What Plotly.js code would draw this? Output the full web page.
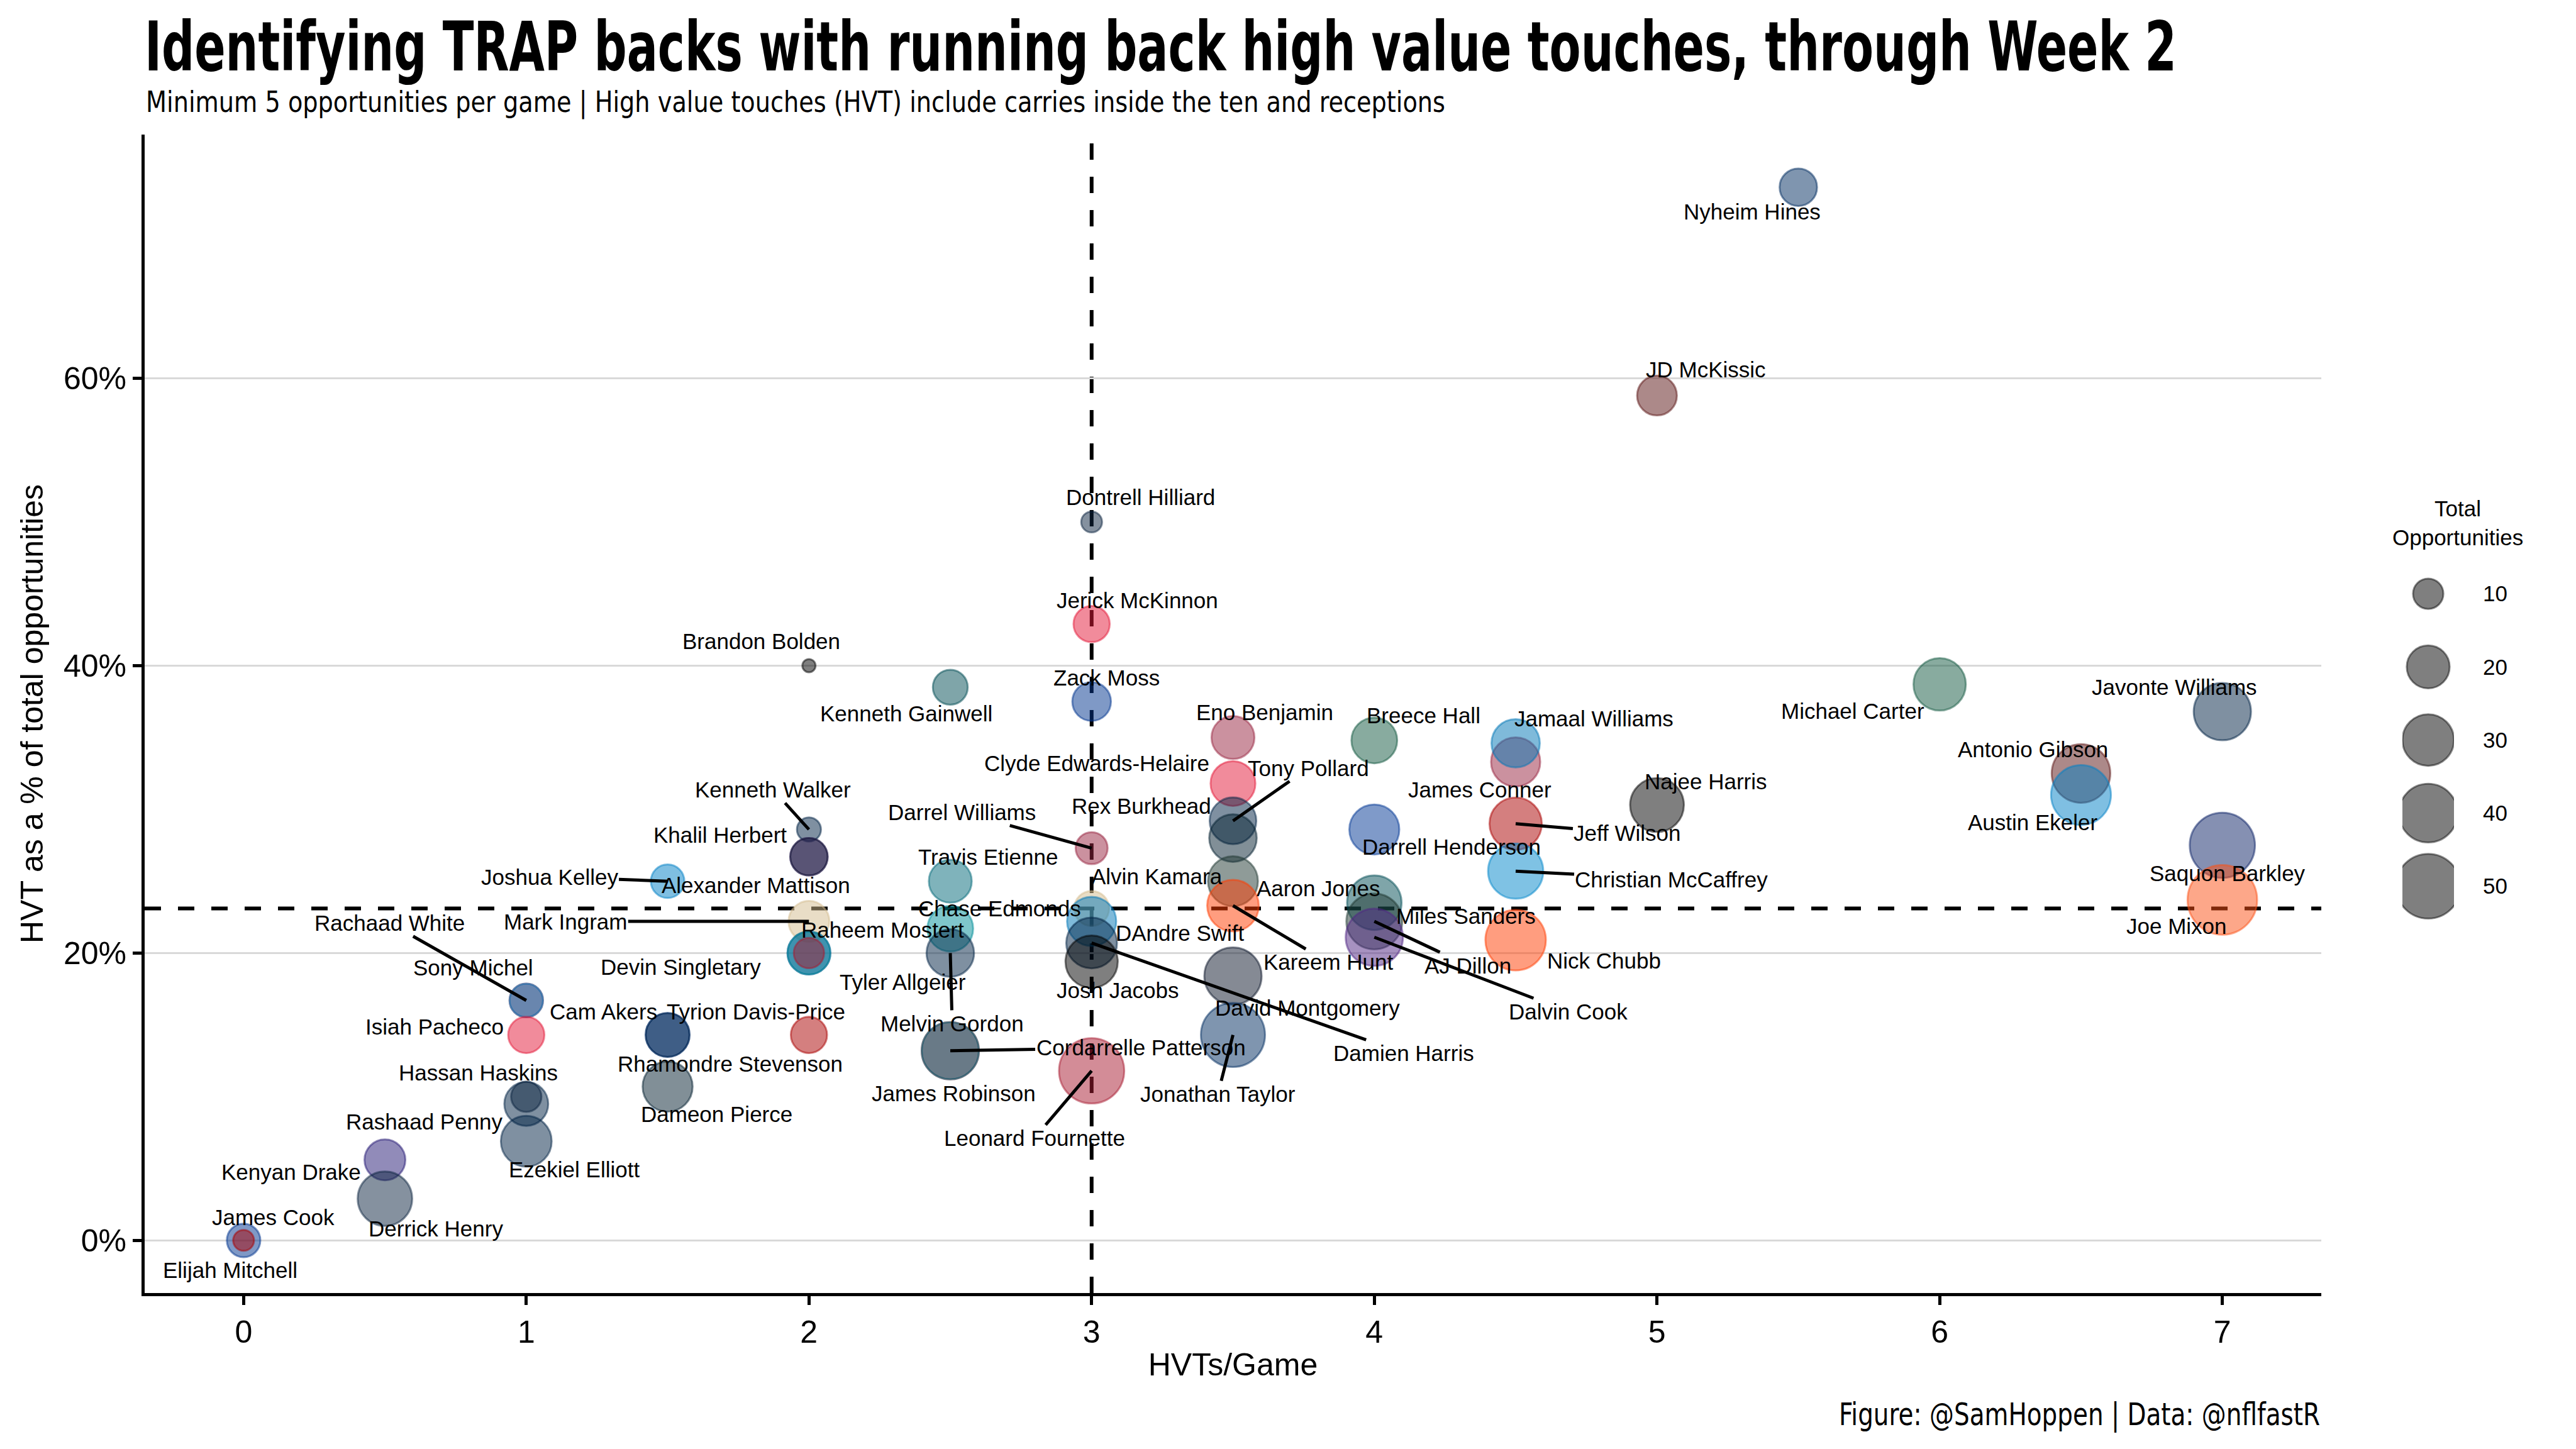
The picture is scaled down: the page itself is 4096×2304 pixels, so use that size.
<!DOCTYPE html>
<html><head><meta charset="utf-8">
<script src="https://cdn.plot.ly/plotly-3.0.1.min.js"></script>
<style>html,body{margin:0;padding:0;background:#fff}#chart{width:4096px;height:2304px}</style>
</head><body><div id="chart"></div>
<script>
// ---------------- DATA ----------------
const players = ["Nyheim Hines","JD McKissic","Dontrell Hilliard","Jerick McKinnon","Brandon Bolden","Kenneth Gainwell","Zack Moss","Michael Carter","Javonte Williams","Eno Benjamin","Breece Hall","James Conner","Jamaal Williams","Antonio Gibson","Austin Ekeler","Clyde Edwards-Helaire","Najee Harris","Tony Pollard","Rex Burkhead","Jeff Wilson","Kenneth Walker","Darrell Henderson","Darrel Williams","Alexander Mattison","Khalil Herbert","Christian McCaffrey","Travis Etienne","Joshua Kelley","Aaron Jones","Saquon Barkley","Joe Mixon","Kareem Hunt","Alvin Kamara","Miles Sanders","Mark Ingram","Chase Edmonds","DAndre Swift","AJ Dillon","Dalvin Cook","Nick Chubb","Devin Singletary","Raheem Mostert","Tyler Allgeier","Melvin Gordon","Damien Harris","Josh Jacobs","David Montgomery","Rachaad White","Sony Michel","Cam Akers","Rhamondre Stevenson","Tyrion Davis-Price","Isiah Pacheco","Cordarrelle Patterson","James Robinson","Jonathan Taylor","Leonard Fournette","Dameon Pierce","Rashaad Penny","Hassan Haskins","Ezekiel Elliott","Kenyan Drake","Derrick Henry","James Cook","Elijah Mitchell"];
const teams = ["IND","WAS","TEN","KC","LV","PHI","BUF","NYJ","DEN","ARI","NYJ","ARI","DET","WAS","LAC","KC","PIT","DAL","HOU","SF","SEA","LA","ARI","MIN","CHI","CAR","JAX","LAC","GB","NYG","CIN","CLE","NO","PHI","NO","MIA","DET","GB","MIN","CLE","BUF","MIA","ATL","DEN","NE","LV","CHI","TB","LAC","LA","NE","SF","KC","ATL","JAX","IND","TB","HOU","SEA","TEN","DAL","BAL","TEN","BUF","SF"];
const hvtPerGame = [5.5,5,3,3,2,2.5,3,6,7,3.5,4,4.5,4.5,6.5,6.5,3.5,5,3.5,3.5,4.5,2,4,3,2,2,4.5,2.5,1.5,3.5,7,7,3.5,3,4,2,2.5,3,4,4,4.5,2,2,2,2.5,3,3,3.5,1,1,1.5,1.5,2,1,2.5,2.5,3.5,3,1.5,1,1,1,0.5,0.5,0,0];
const hvtPct = [73.3,58.8,50.0,42.9,40.0,38.5,37.5,38.7,36.8,35.0,34.8,33.3,34.6,32.5,31.0,31.8,30.3,29.2,28.0,29.0,28.6,28.6,27.3,26.7,26.7,25.7,25.0,25.0,25.0,27.5,23.7,23.3,23.1,23.5,22.2,21.7,22.2,22.2,21.1,20.9,20.0,20.0,20.0,20.0,20.7,19.4,18.4,16.7,16.7,14.3,14.3,14.3,14.3,13.2,13.2,14.3,11.8,10.7,9.5,10.0,6.9,5.6,2.9,0.0,0.0];
const totalOpps = [15,17,6,14,5,13,16,31,38,20,23,27,26,40,42,22,33,24,25,31,7,28,11,15,15,35,20,12,28,51,59,30,13,34,18,23,27,36,38,43,20,20,10,25,29,31,38,12,12,21,21,14,14,38,38,49,51,28,21,10,29,18,34,12,6];
const xTicks = [0,1,2,3,4,5,6,7];
const yTicks = [0,20,40,60];
const legendSizes = [10,20,30,40,50];
const refHVTperGame = 3;     // vertical reference line
const refHVTpct = 23.1;      // horizontal reference line

// ---------------- STYLE ----------------
const teamColor = {ARI:"#97233F",ATL:"#A71930",BAL:"#241773",BUF:"#00338D",CAR:"#0085CA",CHI:"#0B162A",CIN:"#FB4F14",CLE:"#FF3C00",DAL:"#002244",DEN:"#002244",DET:"#0076B6",GB:"#203731",HOU:"#03202F",IND:"#002C5F",JAX:"#006778",KC:"#E31837",LA:"#003594",LAC:"#0080C6",LV:"#000000",MIA:"#008E97",MIN:"#4F2683",NE:"#002244",NO:"#D3BC8D",NYG:"#0B2265",NYJ:"#125740",PHI:"#004C54",PIT:"#000000",SEA:"#002244",SF:"#AA0000",TB:"#A71930",TEN:"#0C2340",WAS:"#5A1414"};
// label offsets in px: [dx, dy(down), hasSegment]
const labelOffset = {
"Nyheim Hines":[-73,39,false],"JD McKissic":[78,-41,false],"Dontrell Hilliard":[78,-40,false],"Jerick McKinnon":[73,-38,false],
"Brandon Bolden":[-76,-39,false],"Kenneth Gainwell":[-70,42,false],"Zack Moss":[24,-38,false],"Michael Carter":[-138,42,false],
"Javonte Williams":[-76,-39,false],"Eno Benjamin":[50,-40,false],"Breece Hall":[78,-40,false],"Jamaal Williams":[125,-39,false],
"James Conner":[-57,44,false],"Antonio Gibson":[-76,-38,false],"Clyde Edwards-Helaire":[-217,-32,false],"Austin Ekeler":[-76,43,false],
"Najee Harris":[78,-38,false],"Tony Pollard":[120,-84,true],"Jeff Wilson":[178,15,true],"Kenneth Walker":[-57,-63,true],
"Darrell Henderson":[123,28,false],"Rex Burkhead":[-146,-51,false],"Darrel Williams":[-206,-57,true],"Alexander Mattison":[-84,45,false],
"Khalil Herbert":[-141,-35,false],"Christian McCaffrey":[248,13,true],"Travis Etienne":[60,-39,false],"Joshua Kelley":[-188,-7,true],
"Aaron Jones":[136,11,false],"Alvin Kamara":[104,-51,false],"Miles Sanders":[146,21,false],"Kareem Hunt":[151,90,true],
"Mark Ingram":[-387,0,true],"Chase Edmonds":[78,-32,false],"DAndre Swift":[141,18,false],"AJ Dillon":[149,70,true],
"Joe Mixon":[-73,42,false],"Saquon Barkley":[8,44,false],"Devin Singletary":[-204,22,false],"Raheem Mostert":[117,-37,false],
"Tyler Allgeier":[149,46,false],"Dalvin Cook":[308,118,true],"Nick Chubb":[141,33,false],"Melvin Gordon":[3,112,true],
"Damien Harris":[496,175,true],"Josh Jacobs":[42,45,false],"David Montgomery":[118,51,false],"Rachaad White":[-217,-123,true],
"Sony Michel":[-84,-52,false],"Cam Akers":[-102,-37,false],"Tyrion Davis-Price":[-84,-37,false],"Isiah Pacheco":[-146,-13,false],
"Rhamondre Stevenson":[99,46,false],"Cordarrelle Patterson":[303,-5,true],"James Robinson":[5,68,false],"Leonard Fournette":[-91,107,true],
"Jonathan Taylor":[-24,94,true],"Hassan Haskins":[-76,-38,false],"Dameon Pierce":[78,44,false],"Rashaad Penny":[-162,28,false],
"Ezekiel Elliott":[76,45,false],"Kenyan Drake":[-149,19,false],"Derrick Henry":[81,47,false],"James Cook":[47,-37,false],"Elijah Mitchell":[-21,47,false]
};
function rgba(hex, a){const n=parseInt(hex.slice(1),16);return `rgba(${(n>>16)&255},${(n>>8)&255},${n&255},${a})`;}
const minOpps = Math.min(...totalOpps);
function bubbleSize(v){return 21 + 12.2*Math.sqrt(Math.max(v-minOpps,0));}

const baseFont = "Liberation Sans, Arial, Helvetica, sans-serif";
const condFont = "DejaVu Sans Condensed, DejaVu Sans, sans-serif";

const fills = teams.map(t=>rgba(teamColor[t],0.5));
const mainTrace = {
  type:'scatter', mode:'markers', x:hvtPerGame, y:hvtPct, text:players, hoverinfo:'text',
  xaxis:'x', yaxis:'y', cliponaxis:false,
  marker:{size:totalOpps.map(bubbleSize), sizemode:'diameter', color:fills,
          line:{color:fills, width:3}, opacity:1}
};
const legendTrace = {
  type:'scatter', mode:'markers', x:legendSizes.map(()=>0), y:legendSizes.map(String),
  xaxis:'x2', yaxis:'y2', hoverinfo:'skip',
  marker:{size:legendSizes.map(bubbleSize), color:'rgba(0,0,0,0.5)', opacity:1,
          line:{color:'rgba(0,0,0,0.45)', width:3}}
};

const labelFont = {family:baseFont, size:35, color:'#000'};
const annotations = players.map((p,i)=>{
  const o = labelOffset[p];
  if (o[2]) {
    return {x:hvtPerGame[i], y:hvtPct[i], xref:'x', yref:'y', text:p, showarrow:true,
      ax:o[0], ay:o[1], axref:'pixel', ayref:'pixel', arrowhead:0, arrowwidth:5, arrowcolor:'#000',
      standoff:0, startstandoff:0, font:labelFont};
  }
  return {x:hvtPerGame[i], y:hvtPct[i], xref:'x', yref:'y', text:p, showarrow:false,
    xshift:o[0], yshift:-o[1], xanchor:'center', yanchor:'middle', font:labelFont};
});
const subtitleIndex = annotations.length;
annotations.push({xref:'paper', yref:'paper', x:0, y:1.0282, xanchor:'left', yanchor:'middle', showarrow:false,
  text:'Minimum 5 opportunities per game | High value touches (HVT) include carries inside the ten and receptions',
  font:{family:condFont, size:46, color:'#000'}});
const captionIndex = annotations.length;
annotations.push({xref:'paper', yref:'paper', x:0.91901, y:-0.1048, xanchor:'right', yanchor:'middle', showarrow:false,
  text:'Figure: @SamHoppen | Data: @nflfastR', font:{family:condFont, size:50, color:'#000'}});
annotations.push({xref:'paper', yref:'paper', x:0.97663, y:0.665, xanchor:'center', yanchor:'middle', showarrow:false,
  text:'Total<br>Opportunities', font:{family:baseFont, size:35, color:'#000'}});

const yPad = 0.05*(Math.max(...hvtPct)-Math.min(...hvtPct));
const xPad = 0.05*(Math.max(...hvtPerGame)-Math.min(...hvtPerGame));

const layout = {
  width:4096, height:2304, paper_bgcolor:'#fff', plot_bgcolor:'#fff', showlegend:false,
  margin:{l:230, r:100, t:214, b:248, pad:0},
  font:{family:baseFont, color:'#000'},
  title:{text:'Identifying TRAP backs with running back high value touches, through Week 2',
    xref:'paper', x:0, xanchor:'left', yref:'container', y:0.9679, yanchor:'middle',
    font:{family:condFont, size:86, weight:700, color:'#000'}},
  xaxis:{domain:[0,0.91901], range:[Math.min(...hvtPerGame)-xPad, Math.max(...hvtPerGame)+xPad],
    tickvals:xTicks, ticktext:xTicks.map(String), showgrid:false, zeroline:false,
    showline:true, linecolor:'#000', linewidth:5, ticks:'outside', ticklen:14, tickwidth:5, tickcolor:'#000',
    tickfont:{family:baseFont, size:50, color:'#000'},
    title:{text:'HVTs/Game', font:{family:baseFont, size:50, color:'#000'}, standoff:8}},
  yaxis:{domain:[0,1], range:[Math.min(...hvtPct)-yPad, Math.max(...hvtPct)+yPad],
    tickvals:yTicks, ticktext:yTicks.map(v=>v+'%'), showgrid:true, gridcolor:'#d9d9d9', gridwidth:3.5, zeroline:false,
    showline:true, linecolor:'#000', linewidth:5, ticks:'outside', ticklen:14, tickwidth:5, tickcolor:'#000',
    tickfont:{family:baseFont, size:50, color:'#000'},
    title:{text:'HVT as a % of total opportunities', font:{family:baseFont, size:50, color:'#000'}, standoff:18}},
  xaxis2:{domain:[0.95326,0.97504], range:[-1,1], visible:false, anchor:'y2', fixedrange:true},
  yaxis2:{domain:[0.3196,0.6352], anchor:'x2', type:'category', categoryorder:'array', categoryarray:legendSizes.map(String),
    range:[4.5,-0.5], side:'right', showgrid:false, zeroline:false, showline:false,
    ticks:'outside', ticklen:38, tickcolor:'rgba(0,0,0,0)', tickfont:{family:baseFont, size:35, color:'#000'}},
  shapes:[
    {type:'line', xref:'x', yref:'y domain', x0:refHVTperGame, x1:refHVTperGame, y0:0, y1:1, layer:'below',
      line:{color:'#000', width:6, dash:'26px,27px'}},
    {type:'line', xref:'x domain', yref:'y', x0:0, x1:1, y0:refHVTpct, y1:refHVTpct, layer:'below',
      line:{color:'#000', width:6, dash:'26px,27px'}}
  ],
  annotations:annotations
};

// squeeze condensed text to the reference widths (keeps real text)
function fitText(el, targetW, align){
  if(!el) return;
  const w0 = el.getComputedTextLength();
  const anchor = el.getAttribute('text-anchor') || 'start';
  const x0 = parseFloat(el.getAttribute('x')) || 0;
  const left = anchor==='middle' ? x0 - w0/2 : (anchor==='end' ? x0 - w0 : x0);
  const nx = align==='left' ? left : left + w0;
  el.setAttribute('x', nx);
  el.setAttribute('text-anchor', align==='left' ? 'start' : 'end');
  el.style.textAnchor = align==='left' ? 'start' : 'end';
  el.querySelectorAll('tspan[x]').forEach(t=>t.setAttribute('x', nx));
  el.setAttribute('textLength', targetW);
  el.setAttribute('lengthAdjust', 'spacingAndGlyphs');
}
function stretchY(el, k){
  if(!el) return;
  const bb = el.getBBox();
  const cy = bb.y + bb.height/2;
  const prev = el.getAttribute('transform') || '';
  el.setAttribute('transform', `${prev} translate(0,${cy}) scale(1,${k}) translate(0,${-cy})`);
}
Plotly.newPlot('chart', [mainTrace, legendTrace], layout, {displayModeBar:false, staticPlot:true}).then(gd=>{
  try{
    const t = gd.querySelector('.gtitle');
    fitText(t, 3231, 'left');
    stretchY(t, 1.27);
    const anns = gd.querySelectorAll('g.annotation');
    if (anns[subtitleIndex]) fitText(anns[subtitleIndex].querySelector('text'), 2066, 'left');
    if (anns[captionIndex]) fitText(anns[captionIndex].querySelector('text'), 765, 'right');
  }catch(e){}
});
</script>
</body></html>
